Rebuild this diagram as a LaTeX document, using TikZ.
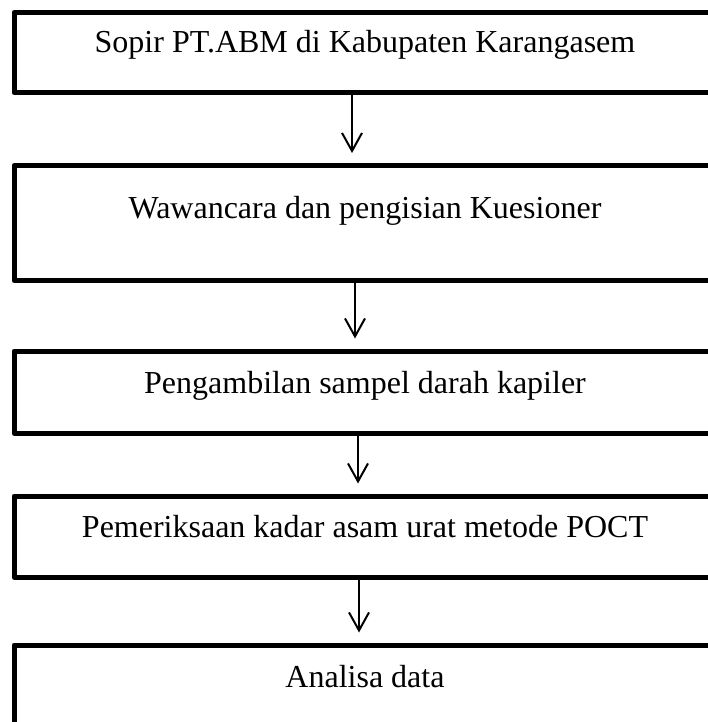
\documentclass[tikz,border=0pt]{standalone}
\usepackage{fontspec}
\setmainfont{Liberation Serif}
\usetikzlibrary{arrows.meta}
\tikzset{
	stepbox/.style={draw, line width=5pt, inner sep=0pt, minimum width=702pt, anchor=base},
	flow/.style={->, line width=2pt, shorten >=10pt}
}
\begin{document}
\begin{tikzpicture}[x=1pt, y=1pt, font=\fontsize{32}{38}\selectfont, line join=round, line cap=round, >={Straight Barb[length=18pt,width=20pt]}]
	\useasboundingbox (0,0) rectangle (708,-722);
	\clip (0,0) rectangle (708,-722);
	\node[stepbox, text height=40.5pt, text depth=39.5pt] (b1) at (365,-53) {Sopir PT.ABM di Kabupaten Karangasem};
	\node[stepbox, text height=52.5pt, text depth=62.5pt] (b2) at (365,-218) {Wawancara dan pengisian Kuesioner};
	\node[stepbox, text height=42pt, text depth=40pt] (b3) at (365,-393) {Pengambilan sampel darah kapiler};
	\node[stepbox, text height=41pt, text depth=40pt] (b4) at (365,-537) {Pemeriksaan kadar asam urat metode POCT};
	\node[stepbox, text height=42pt, text depth=100pt] (b5) at (365,-687) {Analisa data};
	% arrows between the steps
	\draw[flow] ([xshift=-13pt]b1.south) -- ([xshift=-13pt]b2.north);
	\draw[flow] ([xshift=-10pt]b2.south) -- ([xshift=-10pt]b3.north);
	\draw[flow] ([xshift=-7pt]b3.south) -- ([xshift=-7pt]b4.north);
	\draw[flow] ([xshift=-6pt]b4.south) -- ([xshift=-6pt]b5.north);
\end{tikzpicture}
\end{document}
